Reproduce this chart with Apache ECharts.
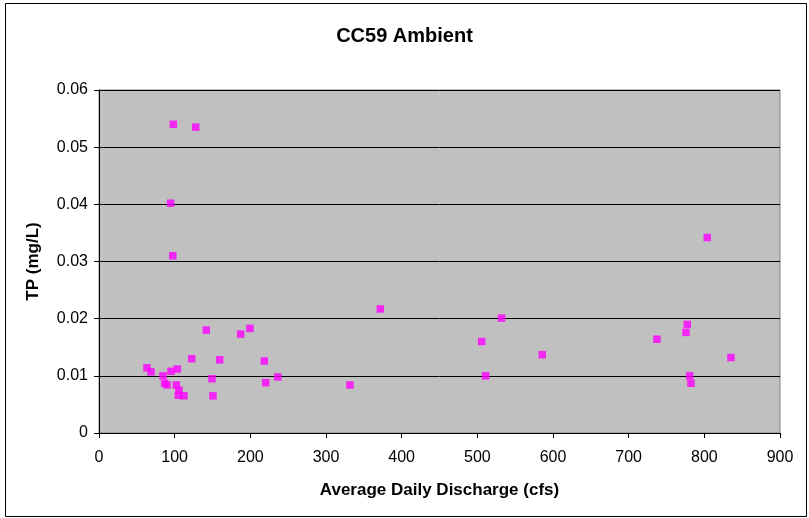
<!DOCTYPE html>
<html>
<head>
<meta charset="utf-8">
<script src="https://cdn.jsdelivr.net/npm/echarts@6/dist/echarts.min.js"></script>
<style>html,body{margin:0;padding:0;background:#fff;}#c{width:809px;height:518px;}</style>
</head>
<body>
<div id="c"></div>
<script>
const discharge = [98.2, 127.8, 94.7, 97.5,
  63.4, 68.7, 84.6, 95.1, 103.5, 86.8, 89.9, 102.2, 105.7, 104.8, 112.3,
  122.5, 141.8, 149.3, 150.6, 159.5, 187.2, 199.5, 218.5, 220.3, 236.2,
  371.8, 331.7, 532, 505.7, 511, 585.8,
  803.9, 835.2, 737.4, 777.5, 775.8, 780.6, 782.3];
const tp = [0.0540, 0.0535, 0.0402, 0.0310,
  0.0114, 0.0107, 0.0100, 0.0108, 0.0112, 0.0087, 0.0084, 0.0084, 0.0075, 0.0066, 0.0065,
  0.0130, 0.0180, 0.0095, 0.0065, 0.0128, 0.0173, 0.0183, 0.0126, 0.0088, 0.0098,
  0.0217, 0.0084, 0.0201, 0.0160, 0.0100, 0.0137,
  0.0342, 0.0132, 0.0164, 0.0190, 0.0176, 0.0100, 0.0087];
const xTicks = [0, 100, 200, 300, 400, 500, 600, 700, 800, 900];
const yTicks = [0, 0.01, 0.02, 0.03, 0.04, 0.05, 0.06];

const points = discharge.map((d, i) => [d, tp[i]]);
const chart = echarts.init(document.getElementById('c'), null, {renderer: 'canvas'});
const font = 'Arial, "Liberation Sans", sans-serif';
chart.setOption({
  animation: false,
  backgroundColor: '#fff',
  title: {
    text: 'CC59 Ambient', left: 'center', top: 21,
    textStyle: {fontFamily: font, fontSize: 20, fontWeight: 'bold', color: '#000'}
  },
  graphic: [{
    type: 'rect', shape: {x: 5.5, y: 3.5, width: 801, height: 513},
    style: {fill: 'none', stroke: '#000', lineWidth: 1}, silent: true, z: -1
  }],
  grid: {
    left: 99, right: 29, top: 90, bottom: 85,
    show: true, backgroundColor: '#C0C0C0', borderColor: '#808080', borderWidth: 1
  },
  xAxis: {
    type: 'value', min: xTicks[0], max: xTicks[xTicks.length - 1], interval: 100,
    name: 'Average Daily Discharge (cfs)', nameLocation: 'middle', nameGap: 49,
    nameTextStyle: {fontFamily: font, fontSize: 17, fontWeight: 'bold', color: '#000'},
    axisLine: {show: true, onZero: false, lineStyle: {color: '#000', width: 1}},
    axisTick: {show: true, inside: false, length: 5, lineStyle: {color: '#000'}},
    axisLabel: {fontFamily: font, fontSize: 16, color: '#000', margin: 17},
    splitLine: {show: false}
  },
  yAxis: {
    type: 'value', min: yTicks[0], max: yTicks[yTicks.length - 1], interval: 0.01,
    name: 'TP (mg/L)', nameLocation: 'middle', nameGap: 57, nameRotate: 90,
    nameTextStyle: {fontFamily: font, fontSize: 17, fontWeight: 'bold', color: '#000'},
    axisLine: {show: true, lineStyle: {color: '#000', width: 1}},
    axisTick: {show: true, inside: false, length: 5, lineStyle: {color: '#000'}},
    axisLabel: {fontFamily: font, fontSize: 16, color: '#000', margin: 11,
      formatter: v => String(parseFloat(v.toFixed(2)))},
    splitLine: {show: true, lineStyle: {color: '#000', width: 1}}
  },
  series: [{
    type: 'scatter', data: points, symbol: 'rect', symbolSize: 7.5,
    itemStyle: {color: '#FF00FF'}
  }]
});
</script>
</body>
</html>
